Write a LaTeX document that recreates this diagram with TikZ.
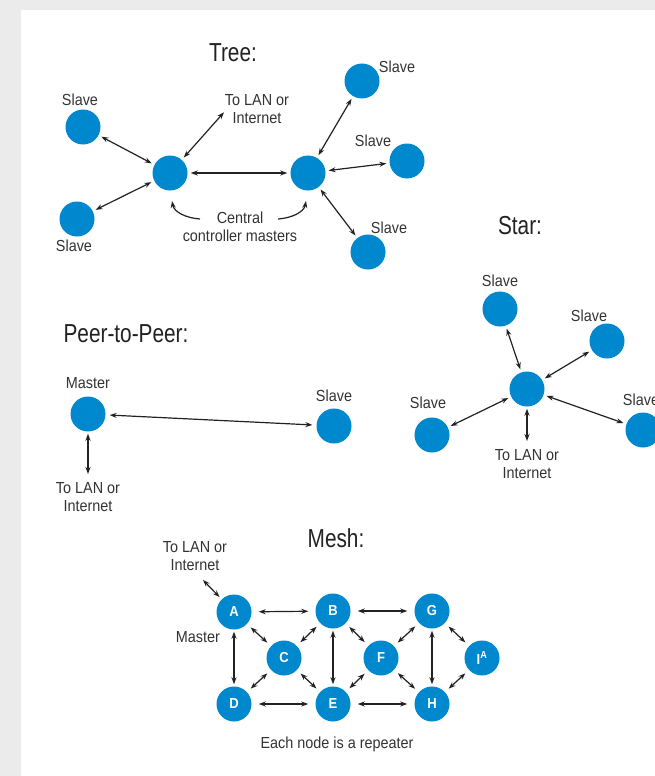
\documentclass[tikz,border=0pt]{standalone}
\usepackage{fontspec}
\setmainfont{Liberation Sans}
\newfontfamily\labfont{Liberation Sans}[FakeStretch=0.9]
\newfontfamily\titfont{Liberation Sans}[FakeStretch=0.8]
\usetikzlibrary{arrows.meta}
\definecolor{netblue}{HTML}{0088CE}
\definecolor{bgray}{HTML}{EBEBEB}
\definecolor{labtxt}{HTML}{333333}
\definecolor{titletxt}{HTML}{222222}
\definecolor{arr}{HTML}{222222}
\begin{document}
\begin{tikzpicture}[x=1pt,y=-1pt,
  dev/.style={circle,fill=netblue,draw=none,minimum size=35pt,inner sep=0pt},
  mdev/.style={dev,text=white,font=\labfont\fontsize{14.5}{14.5}\selectfont\bfseries},
  lab/.style={text=labtxt,font=\labfont\fontsize{16}{18}\selectfont,align=center,inner sep=0pt},
  ttl/.style={text=titletxt,font=\titfont\fontsize{26}{26}\selectfont,inner sep=0pt},
  link/.style={draw=arr,line width=1.2pt,{Stealth[length=7pt,width=5pt]}-{Stealth[length=7pt,width=5pt]},shorten <=#1,shorten >=#1},
  link/.default=3pt,
  onelink/.style={draw=arr,line width=1.2pt,-{Stealth[length=7pt,width=5pt]}}
]
\clip (0,0) rectangle (655,776);
\fill[bgray] (0,0) rectangle (655,776);
\fill[white] (21,10) rectangle (655,776);

% ---------- Tree ----------
\node[ttl] (ttree) at (233,53) {Tree:};
\node[dev] (tsl1) at (83,127) {};
\node[dev] (tsl2) at (77,219) {};
\node[dev] (tc1) at (170,173) {};
\node[dev] (tc2) at (308,173) {};
\node[dev] (tsr1) at (362,81) {};
\node[dev] (tsr2) at (407,161) {};
\node[dev] (tsr3) at (368,252) {};
\node[lab] (ltsl1) at (80,100) {Slave};
\node[lab] (ltsl2) at (74,246) {Slave};
\node[lab] (ltlan) at (257,109) {To LAN or\\Internet};
\node[lab] (ltcc) at (240,227) {Central\\controller masters};
\node[lab] (ltsr1) at (397,67) {Slave};
\node[lab] (ltsr2) at (373,141) {Slave};
\node[lab] (ltsr3) at (389,228) {Slave};
\coordinate (tlan) at (226,110);
\draw[link] (tsl1) -- (tc1);
\draw[link] (tsl2) -- (tc1);
\draw[link=3pt] (tc1) -- (tlan);
\draw[link] (tc1) -- (tc2);
\draw[link] (tc2) -- (tsr1);
\draw[link] (tc2) -- (tsr2);
\draw[link] (tc2) -- (tsr3);
\coordinate (cl0) at (200,219);
\coordinate (cr0) at (278,219);
\draw[onelink] (cl0) .. controls (186,218) and (174,212) .. (172,201);
\draw[onelink] (cr0) .. controls (292,218) and (304,212) .. (306,201);

% ---------- Peer-to-Peer ----------
\node[ttl] (tpeer) at (126,334) {Peer-to-Peer:};
\node[dev] (pm) at (88,414) {};
\node[dev] (ps) at (334,426) {};
\node[lab] (lpm) at (88,383) {Master};
\node[lab] (lps) at (334,396) {Slave};
\node[lab] (lplan) at (88,497) {To LAN or\\Internet};
\coordinate (plan) at (88,476);
\draw[link=4pt] (pm) -- (ps);
\draw[link=2pt] (pm) -- (plan);

% ---------- Star ----------
\node[ttl] (tstar) at (520,226) {Star:};
\node[dev] (sc) at (527,389) {};
\node[dev] (s1) at (500,309) {};
\node[dev] (s2) at (607,341) {};
\node[dev] (s3) at (432,435) {};
\node[dev] (s4) at (643,430) {};
\node[lab] (ls1) at (500,281) {Slave};
\node[lab] (ls2) at (589,316) {Slave};
\node[lab] (ls3) at (428,403) {Slave};
\node[lab] (ls4) at (641,400) {Slave};
\node[lab] (lslan) at (527,464) {To LAN or\\Internet};
\coordinate (slan) at (527,443);
\draw[link] (sc) -- (s1);
\draw[link] (sc) -- (s2);
\draw[link] (sc) -- (s3);
\draw[link] (sc) -- (s4);
\draw[link=2pt] (sc) -- (slan);

% ---------- Mesh ----------
\node[ttl] (tmesh) at (336,538) {Mesh:};
\node[mdev] (A) at (234,612) {A};
\node[mdev] (B) at (333,611) {B};
\node[mdev] (G) at (432,611) {G};
\node[mdev] (C) at (284,658) {C};
\node[mdev] (F) at (381,658) {F};
\node[mdev] (I) at (482,658) {I\textsuperscript{A}};
\node[mdev] (D) at (234,704) {D};
\node[mdev] (E) at (333,704) {E};
\node[mdev] (H) at (432,704) {H};
\node[lab] (lmlan) at (195,556) {To LAN or\\Internet};
\node[lab] (lmaster) at (198,637) {Master};
\node[lab] (lrep) at (337,744) {Each node is a repeater};
\coordinate (mlan) at (203,580);
\draw[link=0pt,shorten >=3pt] (mlan) -- (A);
% horizontal
\draw[link=7pt] (A) -- (B);
\draw[link=7pt] (B) -- (G);
\draw[link=7pt] (D) -- (E);
\draw[link=7pt] (E) -- (H);
% vertical
\draw[link=2pt] (A) -- (D);
\draw[link=2pt] (B) -- (E);
\draw[link=2pt] (G) -- (H);
% diagonal
\draw[link=5pt] (A) -- (C);
\draw[link=5pt] (B) -- (C);
\draw[link=5pt] (C) -- (D);
\draw[link=5pt] (C) -- (E);
\draw[link=5pt] (B) -- (F);
\draw[link=5pt] (G) -- (F);
\draw[link=5pt] (F) -- (E);
\draw[link=5pt] (F) -- (H);
\draw[link=5pt] (G) -- (I);
\draw[link=5pt] (I) -- (H);
\end{tikzpicture}
\end{document}
